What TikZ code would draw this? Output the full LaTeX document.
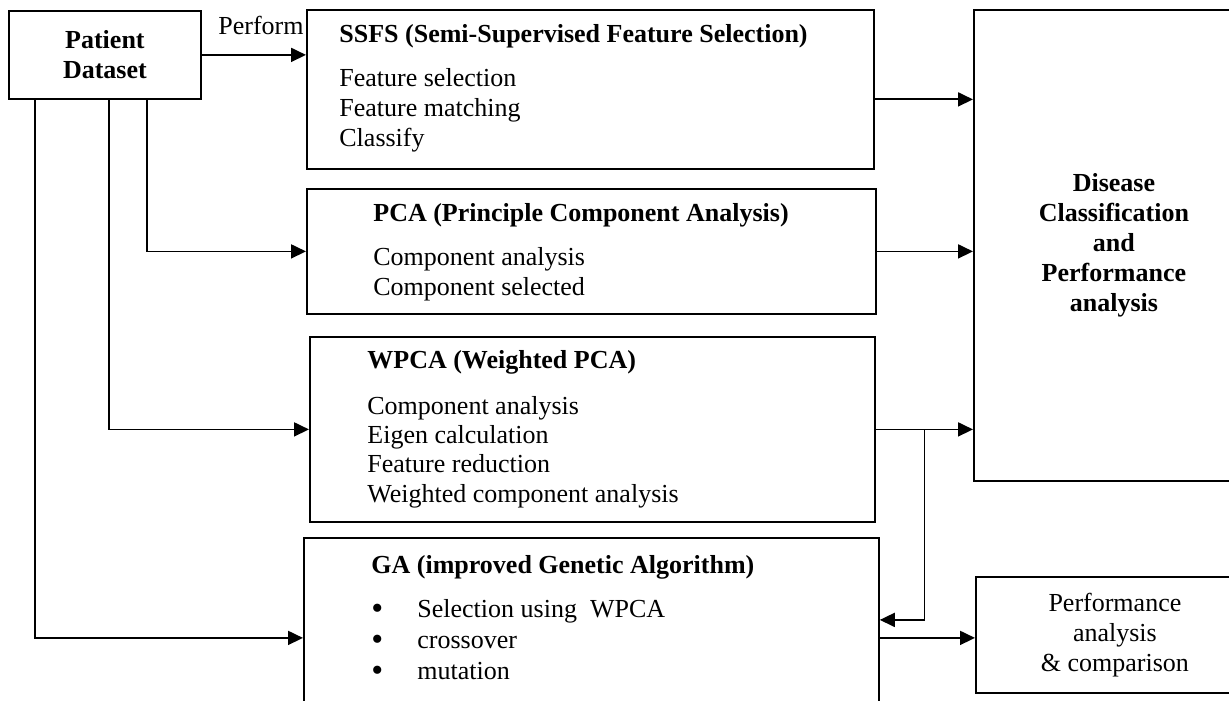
\documentclass[tikz,border=0pt]{standalone}
\usepackage{fontspec}
\setmainfont{Liberation Serif}
\usetikzlibrary{arrows.meta,positioning,calc}
\tikzset{box/.style={draw,line width=0.9pt,anchor=north west,inner sep=0pt,align=center},
  flow/.style={-{Triangle[length=7.5pt,width=7pt]},line width=0.9pt},
  head/.style={anchor=base west,inner sep=0pt,font=\fontsize{13}{15}\selectfont\bfseries},
  items/.style={anchor=base west,inner sep=0pt,font=\fontsize{13}{15}\selectfont}}

\begin{document}
\begin{tikzpicture}[x=0.5pt, y=-0.5pt]
\useasboundingbox (0,0) rectangle (1229,700);
\node[box, minimum width=96pt, minimum height=44pt, font=\fontsize{13}{15}\selectfont\bfseries] (pat) at (8,10) {Patient\\Dataset};
\node[box, minimum width=283.5pt, minimum height=79.5pt] (ssfs) at (306,9) {};
\node[box, minimum width=284.5pt, minimum height=62.5pt] (pca) at (306,188) {};
\node[box, minimum width=282.5pt, minimum height=92.5pt] (wpca) at (309,336) {};
\node[box, minimum width=287.5pt, minimum height=100pt] (ga) at (303,537) {};
\node[box, minimum width=140pt, minimum height=235.5pt, font=\fontsize{13}{15}\selectfont\bfseries] (dis) at (973,9)
  {Disease\\Classification\\and\\Performance\\analysis};
\node[box, minimum width=139pt, minimum height=58pt, font=\fontsize{13}{15}\selectfont] (perf) at (975,576)
  {Performance\\analysis\\\& comparison};
\node[items, anchor=west] (perform) at (218,25) {Perform};
\node[head] (ssfshead) at (339,43) {SSFS (Semi-Supervised Feature Selection)};
\foreach \t [count=\i] in {Feature selection,Feature matching,Classify}
  \node[items] (ssfs-\i) at (339,{57+30*\i}) {\t};
\node[head] (pcahead) at (373,221) {PCA (Principle Component Analysis)};
\foreach \t [count=\i] in {Component analysis,Component selected}
  \node[items] (pca-\i) at (373,{235+30*\i}) {\t};
\node[head] (wpcahead) at (367,368) {WPCA (Weighted PCA)};
\foreach \t [count=\i] in {Component analysis,Eigen calculation,Feature reduction,Weighted component analysis}
  \node[items] (wpca-\i) at (367,{385+29.3*\i}) {\t};
\node[head] (gahead) at (371,573) {GA (improved Genetic Algorithm)};
\foreach \t [count=\i] in {Selection using~ WPCA,crossover,mutation}
  \node[items] (ga-\i) at (371,{586+31*\i})
    {\makebox[23pt][l]{\smash{\raisebox{-1.2pt}{\fontsize{17}{15}\selectfont\textbullet}}}\t};
\draw[flow] (pat.east) -- (pat.east -| ssfs.west);
\draw[flow] ($(pat.south west)+(27,0)$) |- (ga.west);
\draw[flow] ($(pat.south west)+(101,0)$) |- (wpca.west);
\draw[flow] ($(pat.south west)+(139,0)$) |- (pca.west);
\coordinate (ssfsout) at ($(ssfs.east)+(0,10)$);
\draw[flow] (ssfsout) -- (ssfsout -| dis.west);
\draw[flow] (pca.east) -- (pca.east -| dis.west);
\draw[flow] (wpca.east) -- (wpca.east -| dis.west);
\coordinate (split) at ($(wpca.east)!0.5!(wpca.east -| dis.west)$);
\draw[flow] (split) |- ($(ga.east)+(0,-18)$);
\draw[flow] (ga.east) -- (ga.east -| perf.west);
\end{tikzpicture}
\end{document}
